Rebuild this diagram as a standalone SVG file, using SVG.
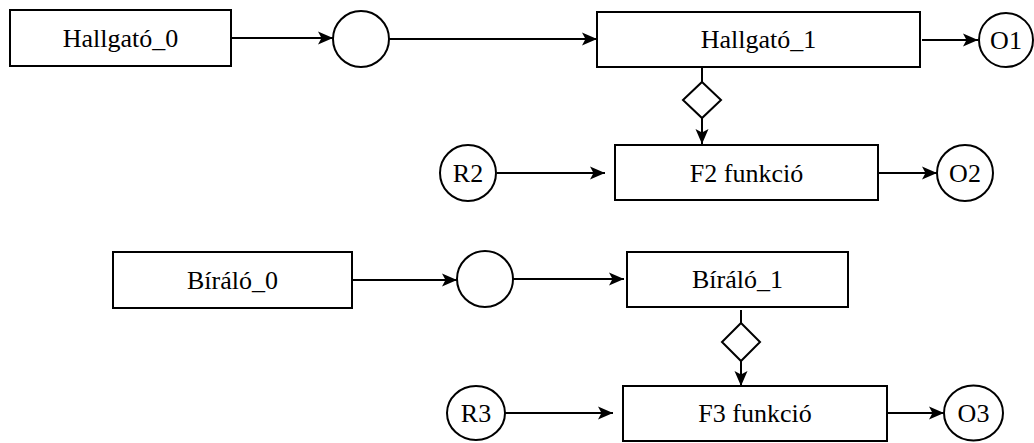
<svg xmlns="http://www.w3.org/2000/svg" width="1034" height="443" viewBox="0 0 1034 443">
<style>
.box{fill:#fff;stroke:#000;stroke-width:2}
.dia{fill:#fff;stroke:#000;stroke-width:2}
.lbl{font-size:26px;fill:#000;text-anchor:middle}
.edge{fill:none;stroke:#000;stroke-width:2}
.arr{marker-end:url(#ah)}
</style>
<defs>
<marker id="ah" markerUnits="userSpaceOnUse" markerWidth="18" markerHeight="16" viewBox="0 0 18 16" refX="16" refY="8" orient="auto">
<path d="M1,1.5 L16,8 L1,14.5 L4.5,8 Z" fill="#000"/>
</marker>
</defs>
<rect width="1034" height="443" fill="#fff"/>
<g id="connectors">
<line class="edge arr" x1="231" y1="38" x2="333" y2="38"/>
<line class="edge arr" x1="389" y1="39" x2="597" y2="39"/>
<line class="edge arr" x1="922" y1="40" x2="978" y2="40"/>
<line class="edge" x1="702" y1="67" x2="702" y2="82"/>
<line class="edge arr" x1="702" y1="118" x2="702" y2="144"/>
<line class="edge arr" x1="497" y1="173" x2="605" y2="173"/>
<line class="edge arr" x1="879" y1="173" x2="937" y2="173"/>
<line class="edge arr" x1="352" y1="280" x2="457" y2="280"/>
<line class="edge arr" x1="513" y1="279" x2="624" y2="279"/>
<line class="edge" x1="741" y1="310" x2="741" y2="323"/>
<line class="edge arr" x1="741" y1="361" x2="741" y2="386"/>
<line class="edge arr" x1="505" y1="413" x2="613" y2="413"/>
<line class="edge arr" x1="888" y1="413" x2="944" y2="413"/>
</g>
<g font-family="'Liberation Serif', Tinos, 'Times New Roman', 'DejaVu Serif', serif">
<g id="hallgato0"><rect class="box" x="10" y="10" width="221" height="56"/><text class="lbl" x="120.5" y="47">Hallgató_0</text></g>
<g id="junction1"><circle class="box" cx="361" cy="39" r="28"/></g>
<g id="hallgato1"><rect class="box" x="597" y="12" width="323" height="55"/><text class="lbl" x="758.5" y="48">Hallgató_1</text></g>
<g id="o1"><circle class="box" cx="1006" cy="40" r="27"/><text class="lbl" x="1006" y="49">O1</text></g>
<g id="gate2"><path class="dia" d="M702,82 L721,100 L702,118 L683,100 Z"/></g>
<g id="r2"><circle class="box" cx="468" cy="173" r="28"/><text class="lbl" x="468" y="182">R2</text></g>
<g id="f2"><rect class="box" x="615" y="145" width="263" height="55"/><text class="lbl" x="746.5" y="182">F2 funkció</text></g>
<g id="o2"><circle class="box" cx="965" cy="173" r="28"/><text class="lbl" x="965" y="182">O2</text></g>
<g id="biralo0"><rect class="box" x="113" y="252" width="239" height="56"/><text class="lbl" x="232.5" y="289">Bíráló_0</text></g>
<g id="junction2"><circle class="box" cx="485" cy="279" r="28"/></g>
<g id="biralo1"><rect class="box" x="627" y="252" width="221" height="55"/><text class="lbl" x="737.5" y="288">Bíráló_1</text></g>
<g id="gate3"><path class="dia" d="M741,323 L760,342 L741,361 L722,342 Z"/></g>
<g id="r3"><ellipse class="box" cx="476" cy="413" rx="29" ry="27"/><text class="lbl" x="476" y="422">R3</text></g>
<g id="f3"><rect class="box" x="623" y="386" width="264" height="55"/><text class="lbl" x="755" y="422">F3 funkció</text></g>
<g id="o3"><ellipse class="box" cx="973.5" cy="413" rx="29.5" ry="27.5"/><text class="lbl" x="973.5" y="422">O3</text></g>
</g>
</svg>
